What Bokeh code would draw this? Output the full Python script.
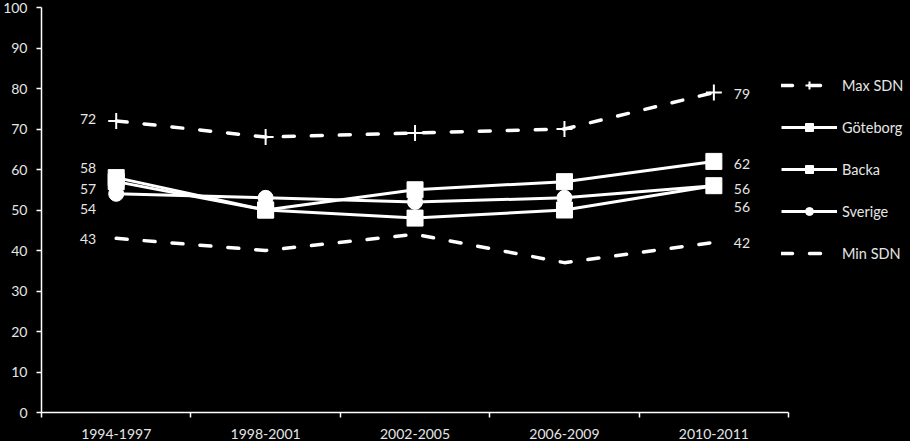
from bokeh.plotting import figure
from bokeh.models import Range1d, FixedTicker, Legend, LegendItem, ColumnDataSource
from bokeh.core.properties import value
from bokeh.embed import file_html
from bokeh.resources import INLINE

# ---- data ----
categories = ["1994-1997", "1998-2001", "2002-2005", "2006-2009", "2010-2011"]
max_sdn = [72, 68, 69, 70, 79]
goteborg = [57, 50, 55, 57, 62]
backa = [58, 50, 48, 50, 56]
sverige = [54, 53, 52, 53, 56]
min_sdn = [43, 40, 44, 37, 42]
y_ticks = [0, 10, 20, 30, 40, 50, 60, 70, 80, 90, 100]

FONT = "Lato"
TXT = "#e6e6e6"
W = "white"

xs = [i + 0.5 for i in range(len(categories))]
n = len(categories)

p = figure(width=910, height=441, output_backend="svg", toolbar_location=None,
           x_range=Range1d(0, 5.816), y_range=Range1d(0, 100),
           min_border_left=41, min_border_right=0, min_border_top=7, min_border_bottom=29)
p.background_fill_color = "black"
p.border_fill_color = "black"
p.outline_line_color = None
p.xgrid.visible = False
p.ygrid.visible = False

# y axis
ya = p.yaxis[0]
ya.ticker = FixedTicker(ticks=y_ticks)
ya.axis_line_color = W
ya.axis_line_width = 1.5
ya.major_tick_line_color = W
ya.major_tick_line_width = 1.5
ya.major_tick_out = 5
ya.major_tick_in = 0
ya.minor_tick_line_color = None
ya.major_label_standoff = 9
ya.major_label_text_font = FONT
ya.major_label_text_font_size = "14px"
ya.major_label_text_color = TXT

# x axis
xa = p.xaxis[0]
xa.ticker = FixedTicker(ticks=xs, minor_ticks=list(range(n + 1)))
xa.bounds = (0, n)
xa.axis_line_color = W
xa.axis_line_width = 1.5
xa.major_tick_line_color = None
xa.major_tick_out = 0
xa.major_tick_in = 0
xa.minor_tick_line_color = W
xa.minor_tick_line_width = 1.5
xa.minor_tick_out = 5
xa.minor_tick_in = 0
xa.major_label_standoff = 11
xa.major_label_overrides = {x: c for x, c in zip(xs, categories)}
xa.major_label_text_font = FONT
xa.major_label_text_font_size = "14px"
xa.major_label_text_color = TXT

dash = "11 17"

# series
r_max_l = p.line(xs, max_sdn, line_color=W, line_width=3.5, line_dash=dash, line_cap="round", line_join="round")
r_max_m = p.scatter(xs, max_sdn, marker="cross", size=16, line_color=W, line_width=2)

r_min_l = p.line(xs, min_sdn, line_color=W, line_width=3.5, line_dash=dash, line_cap="round", line_join="round")

r_sv_l = p.line(xs, sverige, line_color=W, line_width=3, line_join="round")
r_sv_m = p.scatter(xs, sverige, marker="circle", size=15, fill_color=W, line_color=W)

r_ba_l = p.line(xs, backa, line_color=W, line_width=3, line_join="round")
r_ba_m = p.scatter(xs, backa, marker="square", size=16, fill_color=W, line_color=W)

r_go_l = p.line(xs, goteborg, line_color=W, line_width=3, line_join="round")
r_go_m = p.scatter(xs, goteborg, marker="square", size=16, fill_color=W, line_color=W)

# data labels (first and last category)
series = [max_sdn, goteborg, backa, sverige, min_sdn]
left_dy = [-2, 7, -10, 15, 1]
right_dy = [1, 3, 3, 21, 1]
lx, ly, loff, ltxt = [], [], [], []
for s, dy in zip(series, left_dy):
    lx.append(xs[0]); ly.append(s[0]); loff.append(dy); ltxt.append(str(s[0]))
rx, ry, roff, rtxt = [], [], [], []
for s, dy in zip(series, right_dy):
    rx.append(xs[-1]); ry.append(s[-1]); roff.append(dy); rtxt.append(str(s[-1]))

p.text(x="x", y="y", text="t", y_offset="dy",
       source=ColumnDataSource(dict(x=lx, y=ly, t=ltxt, dy=loff)),
       x_offset=-20, text_align="right", text_baseline="middle",
       text_font=value(FONT), text_font_size="14px", text_color=TXT)
p.text(x="x", y="y", text="t", y_offset="dy",
       source=ColumnDataSource(dict(x=rx, y=ry, t=rtxt, dy=roff)),
       x_offset=20, text_align="left", text_baseline="middle",
       text_font=value(FONT), text_font_size="14px", text_color=TXT)

legend = Legend(items=[
    LegendItem(label="Max SDN", renderers=[r_max_l, r_max_m]),
    LegendItem(label="Göteborg", renderers=[r_go_l, r_go_m]),
    LegendItem(label="Backa", renderers=[r_ba_l, r_ba_m]),
    LegendItem(label="Sverige", renderers=[r_sv_l, r_sv_m]),
    LegendItem(label="Min SDN", renderers=[r_min_l]),
], location=(740, 149))
legend.background_fill_alpha = 0
legend.border_line_color = None
legend.padding = 0
legend.margin = 0
legend.spacing = 22
legend.glyph_height = 20
legend.label_height = 20
legend.glyph_width = 56
legend.label_standoff = 5
legend.label_text_font = FONT
legend.label_text_font_size = "14.5px"
legend.label_text_color = TXT
p.add_layout(legend)

TEMPLATE = "{% block postamble %}<style>body{background:#000;}</style>{% endblock %}"
open("out.html", "w").write(file_html(p, INLINE, template=TEMPLATE))
